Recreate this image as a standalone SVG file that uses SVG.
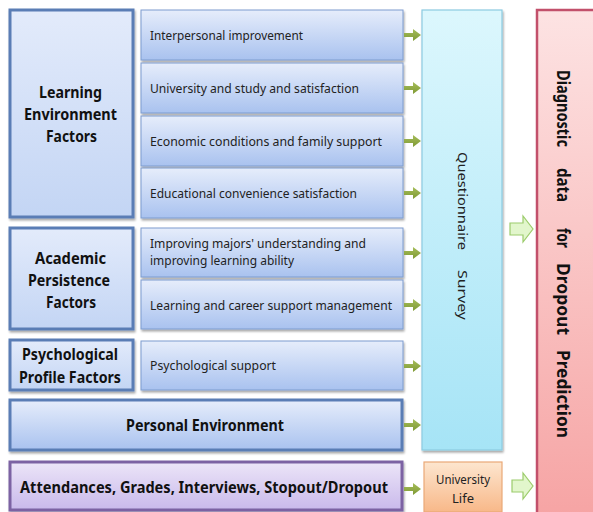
<svg xmlns="http://www.w3.org/2000/svg" width="593" height="512" viewBox="0 0 593 512">
<defs>
<linearGradient id="gMain" x1="0" y1="0" x2="0" y2="1"><stop offset="0" stop-color="#e3ebfb"/><stop offset="1" stop-color="#c3d5f4"/></linearGradient>
<linearGradient id="gSub" x1="0" y1="0" x2="0" y2="1"><stop offset="0" stop-color="#e6edfb"/><stop offset="1" stop-color="#a9c2ef"/></linearGradient>
<linearGradient id="gQ" x1="0" y1="0" x2="0" y2="1"><stop offset="0" stop-color="#dcf7fd"/><stop offset="1" stop-color="#a6e4f6"/></linearGradient>
<linearGradient id="gU" x1="0" y1="0" x2="0" y2="1"><stop offset="0" stop-color="#fde6cf"/><stop offset="1" stop-color="#f8b889"/></linearGradient>
<linearGradient id="gD" x1="0" y1="0" x2="0" y2="1"><stop offset="0" stop-color="#fde3e3"/><stop offset="1" stop-color="#f6a4a4"/></linearGradient>
<linearGradient id="gA" x1="0" y1="0" x2="0" y2="1"><stop offset="0" stop-color="#ece5f8"/><stop offset="1" stop-color="#c9b9eb"/></linearGradient>
<linearGradient id="gArr" x1="0" y1="0" x2="0" y2="1"><stop offset="0" stop-color="#a6bd5a"/><stop offset="1" stop-color="#7f9a34"/></linearGradient>
<filter id="sh" x="-10%" y="-10%" width="125%" height="125%"><feGaussianBlur in="SourceAlpha" stdDeviation="1.2"/><feOffset dx="1" dy="2" result="b"/><feComponentTransfer><feFuncA type="linear" slope="0.35"/></feComponentTransfer><feMerge><feMergeNode/><feMergeNode in="SourceGraphic"/></feMerge></filter>
</defs>
<style>
.main{fill:url(#gMain);stroke:#5a7db5;stroke-width:3;filter:url(#sh)}
.sub{fill:url(#gSub);stroke:#7d9ccf;stroke-width:1;filter:url(#sh)}
.bt{font-family:"Noto Sans","DejaVu Sans",sans-serif;font-weight:bold;font-size:16.5px;fill:#111}
.st{font-family:"Noto Sans","DejaVu Sans",sans-serif;font-size:13px;fill:#222}
.arr{fill:url(#gArr)}
.blk{fill:#e2f6cc;stroke:#9ccc6c;stroke-width:1.2}
</style>
<rect width="593" height="512" fill="#ffffff"/>

<g id="learning-env">
<rect class="main" x="10" y="10" width="123" height="207"/>
<text class="bt" x="39" y="98" textLength="63" lengthAdjust="spacingAndGlyphs">Learning</text>
<text class="bt" x="24" y="120" textLength="93" lengthAdjust="spacingAndGlyphs">Environment</text>
<text class="bt" x="46" y="142" textLength="51" lengthAdjust="spacingAndGlyphs">Factors</text>
</g>
<g id="interpersonal"><rect class="sub" x="141" y="10" width="262" height="50"/><text class="st" x="150" y="40" textLength="153" lengthAdjust="spacingAndGlyphs">Interpersonal improvement</text></g>
<g id="university-study"><rect class="sub" x="141" y="63" width="262" height="50"/><text class="st" x="150" y="93" textLength="209" lengthAdjust="spacingAndGlyphs">University  and study and satisfaction</text></g>
<g id="economic"><rect class="sub" x="141" y="116" width="262" height="50"/><text class="st" x="150" y="146" textLength="232" lengthAdjust="spacingAndGlyphs">Economic  conditions and family  support</text></g>
<g id="educational"><rect class="sub" x="141" y="168" width="262" height="50"/><text class="st" x="150" y="198" textLength="207" lengthAdjust="spacingAndGlyphs">Educational  convenience  satisfaction</text></g>

<g id="academic">
<rect class="main" x="10" y="228" width="123" height="101"/>
<text class="bt" x="35" y="264" textLength="71" lengthAdjust="spacingAndGlyphs">Academic</text>
<text class="bt" x="28" y="286" textLength="82" lengthAdjust="spacingAndGlyphs">Persistence</text>
<text class="bt" x="46" y="308" textLength="50" lengthAdjust="spacingAndGlyphs">Factors</text>
</g>
<g id="improving-majors"><rect class="sub" x="141" y="228" width="262" height="49"/>
<text class="st" x="150" y="248" textLength="216" lengthAdjust="spacingAndGlyphs">Improving majors' understanding and</text>
<text class="st" x="150" y="265" textLength="144" lengthAdjust="spacingAndGlyphs">improving  learning ability</text></g>
<g id="career-support"><rect class="sub" x="141" y="280" width="262" height="49"/><text class="st" x="150" y="310" textLength="242" lengthAdjust="spacingAndGlyphs">Learning and career support management</text></g>

<g id="psychological">
<rect class="main" x="10" y="340" width="123" height="50"/>
<text class="bt" x="22" y="360" textLength="96" lengthAdjust="spacingAndGlyphs">Psychological</text>
<text class="bt" x="19" y="383" textLength="102" lengthAdjust="spacingAndGlyphs">Profile Factors</text>
</g>
<g id="psych-support"><rect class="sub" x="141" y="341" width="262" height="49"/><text class="st" x="150" y="370" textLength="126" lengthAdjust="spacingAndGlyphs">Psychological  support</text></g>

<g id="personal-env">
<rect class="main" x="10" y="400" width="392" height="50" style="fill:url(#gSub)"/>
<text class="bt" x="126" y="431" textLength="158" lengthAdjust="spacingAndGlyphs">Personal Environment</text>
</g>

<g id="attendances">
<rect x="10" y="462" width="392" height="48" fill="url(#gA)" stroke="#7b62a3" stroke-width="3" filter="url(#sh)"/>
<text class="bt" x="20" y="493" textLength="368" lengthAdjust="spacingAndGlyphs">Attendances, Grades, Interviews, Stopout/Dropout</text>
</g>

<g id="questionnaire">
<rect x="422" y="10" width="80" height="440" fill="url(#gQ)" stroke="#8ccbe2" stroke-width="1.2" filter="url(#sh)"/>
<g transform="translate(458,0) rotate(90)">
<text class="st" x="152" y="0" textLength="98" lengthAdjust="spacingAndGlyphs">Questionnaire</text>
<text class="st" x="270" y="0" textLength="50" lengthAdjust="spacingAndGlyphs">Survey</text>
</g>
</g>

<g id="university-life">
<rect x="424" y="462" width="78" height="50" fill="url(#gU)" stroke="#eaa877" stroke-width="1.2"/>
<text class="st" x="436" y="484" textLength="54" lengthAdjust="spacingAndGlyphs">University</text>
<text class="st" x="463" y="503" text-anchor="middle">Life</text>
</g>

<g id="diagnostic">
<rect x="537" y="10" width="60" height="506" fill="url(#gD)" stroke="#c2506b" stroke-width="2.5"/>
<g transform="translate(557,0) rotate(90)">
<text class="bt" x="70" y="0" textLength="77" lengthAdjust="spacingAndGlyphs" style="font-size:17px">Diagnostic</text>
<text class="bt" x="168" y="0" textLength="34" lengthAdjust="spacingAndGlyphs" style="font-size:17px">data</text>
<text class="bt" x="228" y="0" textLength="20" lengthAdjust="spacingAndGlyphs" style="font-size:17px">for</text>
<text class="bt" x="263" y="0" textLength="72" lengthAdjust="spacingAndGlyphs" style="font-size:17px">Dropout</text>
<text class="bt" x="350" y="0" textLength="88" lengthAdjust="spacingAndGlyphs" style="font-size:17px">Prediction</text>
</g>
</g>

<g id="connectors">
<path class="arr" d="M404 33 h9 v-4 l8 6 l-8 6 v-4 h-9 z"/>
<path class="arr" d="M404 86 h9 v-4 l8 6 l-8 6 v-4 h-9 z"/>
<path class="arr" d="M404 139 h9 v-4 l8 6 l-8 6 v-4 h-9 z"/>
<path class="arr" d="M404 191 h9 v-4 l8 6 l-8 6 v-4 h-9 z"/>
<path class="arr" d="M404 251 h9 v-4 l8 6 l-8 6 v-4 h-9 z"/>
<path class="arr" d="M404 303 h9 v-4 l8 6 l-8 6 v-4 h-9 z"/>
<path class="arr" d="M404 364 h9 v-4 l8 6 l-8 6 v-4 h-9 z"/>
<path class="arr" d="M404 423 h9 v-4 l8 6 l-8 6 v-4 h-9 z"/>
<path class="arr" d="M404 487 h9 v-4 l8 6 l-8 6 v-4 h-9 z"/>
<path class="blk" d="M510 223 h13 v-7 l10 13 l-10 13 v-7 h-13 z"/>
<path class="blk" d="M512 480 h11 v-7 l10 13 l-10 13 v-7 h-11 z"/>
</g>
</svg>
